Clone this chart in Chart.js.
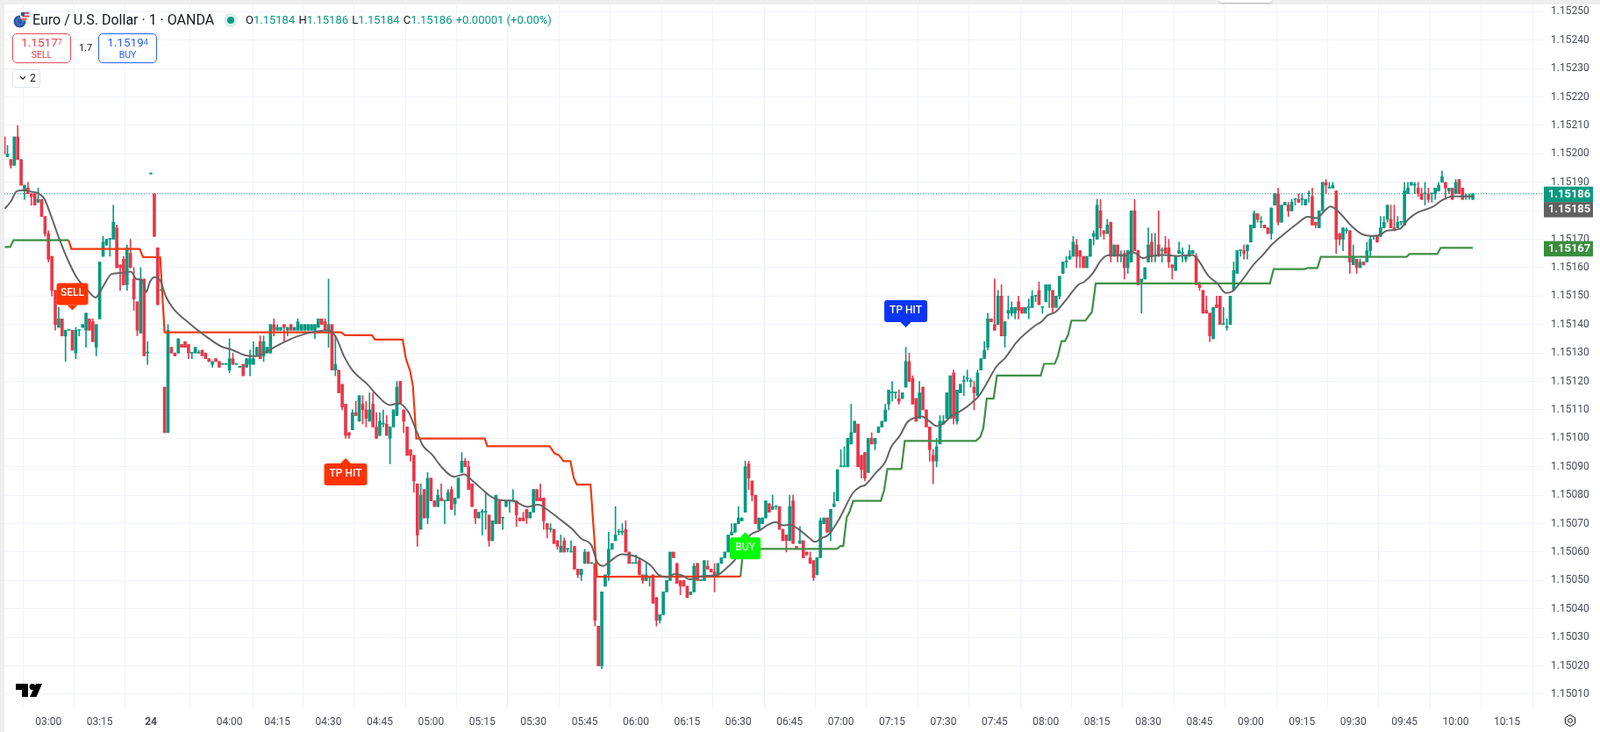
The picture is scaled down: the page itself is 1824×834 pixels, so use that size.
<!DOCTYPE html>
<html><head><meta charset="utf-8">
<script src="https://cdn.jsdelivr.net/npm/chart.js@4"></script>
<style>
html,body{margin:0;padding:0;background:#fff;width:1824px;height:834px;overflow:hidden;font-family:Roboto,"Liberation Sans",sans-serif;}
#wrap{position:relative;width:1824px;height:834px;}
canvas{position:absolute;left:0;top:0;}
.o{position:absolute;white-space:nowrap;}
.bandT{left:0;top:0;width:1824px;height:5px;background:#eeeeee;}
.bandL{left:0;top:0;width:5px;height:834px;background:#eeeeee;}
.tab{left:1390px;top:0;width:60px;height:3px;background:#fff;box-shadow:0 1px 2px rgba(0,0,0,.25);border-radius:0 0 3px 3px;}
.box{box-sizing:border-box;border:1px solid;border-radius:5px;height:34px;width:67px;background:#fff;text-align:center;}
.box b{display:block;font-weight:400;font-size:13.5px;line-height:13px;margin-top:3px;}
.box i{display:block;font-style:normal;font-size:10.5px;line-height:11px;margin-top:2px;}
.box sup{font-size:9px;line-height:0;vertical-align:2px;}
</style></head>
<body><div id="wrap">
<canvas id="c" width="1824" height="834" style="width:1824px;height:834px"></canvas>
<div class="o bandT"></div><div class="o bandL"></div><div class="o tab"></div>
<svg class="o" style="left:15px;top:13px" width="19" height="19" viewBox="0 0 19 19">
<circle cx="7.5" cy="11.5" r="7" fill="#2b5aa8"/><circle cx="7.5" cy="11.5" r="3.5" fill="none" stroke="#bcd0ee" stroke-dasharray="1 1.5"/>
<circle cx="13" cy="5.5" r="5" fill="#e9eef6"/><rect x="9" y="1" width="9" height="1.8" fill="#e23b3b"/><rect x="10.5" y="4.6" width="8" height="1.8" fill="#e23b3b"/><rect x="9.5" y="8" width="6" height="1.6" fill="#e23b3b"/><rect x="9" y="1" width="4" height="4" fill="#2b5aa8"/></svg>
<div class="o" id="title" style="left:37px;top:14px;font-size:16px;line-height:18px;color:#131722;">Euro / U.S. Dollar · 1 · OANDA</div>
<div class="o" style="left:255px;top:15px;width:16px;height:16px;border-radius:50%;background:#d9f0ec;"></div>
<div class="o" style="left:259px;top:19px;width:8px;height:8px;border-radius:50%;background:#089981;"></div>
<div class="o" id="ohlc" style="left:280px;top:14px;font-size:13px;line-height:18px;color:#089981;"><span style="color:#131722">O</span>1.15184 <span style="color:#131722;margin-left:1px">H</span>1.15186 <span style="color:#131722;margin-left:1px">L</span>1.15184 <span style="color:#131722;margin-left:1px">C</span>1.15186 <span style="margin-left:1px">+0.00001 (+0.00%)</span></div>
<div class="o box" style="left:14px;top:38px;border-color:#e0505e;color:#e8424f;"><b>1.1517<sup>7</sup></b><i>SELL</i></div>
<div class="o" style="left:90px;top:48px;font-size:11px;line-height:14px;color:#131722;">1.7</div>
<div class="o box" style="left:112px;top:38px;border-color:#2962ff;color:#2962ff;"><b>1.1519<sup>4</sup></b><i>BUY</i></div>
<div class="o" style="left:14px;top:79px;box-sizing:border-box;width:32px;height:21px;border:1px solid #e0e3eb;border-radius:3px;background:#fff;color:#131722;font-size:12px;line-height:19px;padding-left:7px;"><svg width="8" height="6" viewBox="0 0 8 6" style="margin-right:4px;vertical-align:1px"><path d="M1 1.2 4 4.2 7 1.2" fill="none" stroke="#131722" stroke-width="1.1"/></svg>2</div>
<svg class="o" style="left:18px;top:779px" width="30" height="15" viewBox="0 0 30 15"><path d="M0 0H14V15H7V7H0Z" fill="#000"/><circle cx="19" cy="3.5" r="3.5" fill="#000"/><path d="M23 0H30L23.5 15H16Z" fill="#000"/></svg>
<svg class="o" style="left:1782px;top:813px" width="16" height="16" viewBox="0 0 16 16"><circle cx="8" cy="8" r="2.4" fill="none" stroke="#131722"/><path d="M8 1.5 13.6 4.75V11.25L8 14.5 2.4 11.25V4.75Z" fill="none" stroke="#131722" stroke-linejoin="round"/></svg>
</div>
<script>
// candle values: points above 1.15000 (206 = 1.15206), one entry per one-minute bar
const opens=[206,199,198,196,206,198,187,188,186,186,
183,184,178,172,164,152,139,142,136,138,
138,130,138,139,138,142,141,132,142,164,
168,170,170,174,161,163,154,165,156,148,
137,156,130,193,186,167,152,118,102,132,
130,130,133,134,133,130,130,130,131,130,
128,126,128,127,126,126,124,128,126,125,
126,125,126,126,129,134,129,130,130,140,
138,138,140,138,140,138,138,138,138,138,
138,138,139,142,141,138,140,124,124,119,
112,102,103,109,106,112,110,106,112,104,
101,105,105,100,104,108,120,110,104,96,
94,84,68,82,72,86,78,76,79,78,
78,82,77,79,88,92,90,84,75,72,
74,74,73,64,70,78,72,76,78,78,
78,72,72,75,72,74,82,79,79,70,
68,68,64,60,64,61,60,62,54,52,
56,60,56,56,34,20,48,52,61,64,
67,67,68,60,56,56,57,52,50,51,
52,44,36,38,46,50,60,56,50,50,
48,45,46,56,50,50,55,54,53,52,
56,58,60,66,67,70,71,74,91,85,
80,68,70,72,77,75,76,76,68,66,
64,78,62,63,64,60,58,57,52,58,
70,72,67,76,78,90,90,90,98,102,
105,94,95,88,100,98,102,104,106,112,
116,116,114,114,118,127,121,114,107,118,
110,104,94,92,98,105,107,107,123,106,
116,120,121,120,118,115,124,128,132,142,
140,140,150,136,144,144,144,148,146,144,
146,146,150,152,146,148,152,152,146,150,
158,162,163,164,168,166,164,160,164,171,
170,180,173,172,176,164,168,164,165,160,
162,180,166,155,156,162,169,164,168,166,
167,167,161,159,165,165,163,164,165,164,
154,152,145,144,135,147,150,140,139,140,
152,158,166,166,166,169,174,179,176,175,
174,172,182,186,176,182,182,180,184,184,
184,182,186,185,176,174,180,190,188,188,
187,172,170,173,173,161,163,160,162,162,
166,171,171,171,174,177,177,174,174,176,
175,186,189,189,188,186,186,186,186,186,
187,190,190,187,188,186,191,188,185,185,184];
const highs=[206,203,198,206,210,198,189,190,186,186,
188,184,178,173,164,152,146,142,138,138,
138,139,138,140,144,142,142,140,162,171,
170,170,182,175,161,164,168,170,160,148,
160,156,134,193,186,167,152,118,140,132,
130,135,133,134,133,130,132,131,131,130,
128,127,128,127,126,126,135,130,126,125,
126,128,131,134,132,136,136,132,140,142,
140,139,140,139,140,139,142,140,140,140,
140,140,142,142,142,156,140,136,124,119,
112,102,110,113,115,115,113,116,116,109,
109,110,108,104,110,120,120,110,104,96,
94,84,84,82,88,86,78,82,84,78,
82,83,79,86,95,93,92,84,75,74,
75,81,73,71,80,78,72,78,78,82,
78,72,74,75,74,82,82,84,79,70,
70,68,64,66,65,61,64,62,54,54,
61,60,56,56,34,46,52,67,63,76,
68,70,71,60,56,59,58,52,56,51,
52,44,38,46,50,60,60,56,50,50,
48,46,56,56,50,57,57,54,56,56,
58,60,66,70,70,76,72,92,92,85,
80,72,72,78,77,80,76,76,68,66,
80,80,62,69,64,60,60,57,58,72,
72,72,75,81,89,96,97,100,112,106,
105,94,95,100,102,100,104,106,112,117,
120,116,117,116,132,130,122,114,120,118,
110,104,96,100,108,108,116,122,124,117,
119,122,124,121,120,124,128,134,144,142,
156,152,154,141,150,148,146,150,146,146,
149,152,150,155,146,154,154,152,150,157,
162,164,166,171,170,166,164,164,170,173,
184,184,173,177,176,168,168,166,166,166,
180,184,166,156,160,174,172,172,180,167,
171,170,161,164,169,167,164,168,166,165,
155,152,150,144,146,150,150,146,142,150,
162,166,166,168,168,175,180,179,178,175,
174,181,186,188,182,183,183,184,184,186,
186,184,187,188,176,180,190,191,190,190,
187,172,174,174,173,168,163,163,162,169,
171,171,171,178,178,182,182,182,178,176,
190,190,190,190,190,188,190,188,186,188,
190,194,190,188,188,191,191,188,186,186,186];
const lows=[200,199,195,196,198,189,184,186,182,182,
183,178,171,162,150,138,139,136,127,138,
131,128,136,139,132,138,134,129,142,164,
168,164,170,160,152,154,152,160,145,136,
137,129,126,193,171,147,152,102,102,130,
129,130,132,132,128,128,130,130,129,128,
127,125,127,125,126,126,123,126,126,125,
122,125,122,126,129,128,127,130,130,136,
138,138,134,136,138,138,138,138,138,138,
138,135,139,140,138,132,124,122,116,110,
100,100,103,108,106,105,104,106,104,100,
101,104,101,91,104,108,112,102,94,92,
81,62,68,72,70,78,76,76,78,70,
78,75,73,79,88,90,82,76,70,72,
66,68,62,64,70,70,68,76,74,78,
69,71,71,70,72,74,78,78,68,65,
67,63,61,60,60,60,60,54,51,50,
56,56,56,34,20,19,48,50,61,64,
66,66,60,56,56,56,52,49,50,48,
42,34,35,38,46,50,58,49,45,48,
44,45,46,50,50,50,54,53,46,52,
56,58,60,66,67,70,71,74,82,78,
70,68,70,72,74,75,75,68,64,60,
64,63,61,63,58,59,56,50,52,58,
70,67,64,76,78,90,90,90,98,102,
90,86,85,88,98,96,102,104,106,110,
113,114,112,114,118,120,112,106,107,110,
104,92,84,90,98,105,107,107,105,105,
116,115,120,118,110,115,124,128,131,141,
138,140,136,132,142,143,142,142,144,144,
142,146,148,147,144,148,146,144,146,149,
158,160,163,164,160,160,160,160,164,168,
170,171,170,172,162,164,162,162,156,158,
162,166,154,144,156,162,162,162,164,162,
165,160,156,159,165,162,162,164,165,154,
152,144,144,134,135,146,140,140,138,140,
152,158,164,163,163,169,174,176,174,174,
172,170,182,175,176,182,178,180,182,183,
182,182,183,175,174,174,180,186,188,188,
165,168,166,172,158,161,158,160,161,162,
164,170,169,171,174,176,174,173,174,175,
175,186,189,186,185,184,182,183,183,184,
187,190,184,186,184,186,186,184,184,184,184];
const closes=[200,200,196,206,198,189,189,186,185,182,
184,178,172,163,152,140,142,136,138,138,
131,138,138,140,144,138,134,140,162,169,
170,170,176,160,160,154,167,160,149,138,
156,129,130,193,171,147,152,102,138,130,
129,135,132,132,130,130,132,130,129,128,
127,127,127,125,126,126,128,126,126,125,
122,128,128,128,132,128,134,132,140,138,
139,139,139,139,138,139,141,140,140,140,
140,140,142,140,138,140,124,126,116,111,
101,101,109,108,115,110,107,110,104,100,
106,105,101,104,110,118,112,106,94,94,
85,66,80,72,86,78,76,80,78,78,
81,75,79,86,92,90,82,76,72,74,
74,74,64,71,80,70,72,78,78,78,
73,71,71,72,74,82,78,78,71,68,
68,63,62,62,60,61,60,54,52,54,
60,56,56,36,20,46,52,61,63,66,
67,67,60,56,56,56,52,50,52,51,
42,36,38,46,50,60,58,49,48,48,
44,46,55,50,50,57,54,53,52,56,
58,60,66,67,70,72,72,90,86,80,
70,72,72,78,74,76,76,68,64,64,
76,63,61,64,58,59,56,51,58,71,
72,67,75,77,89,90,90,100,102,106,
90,89,86,100,98,100,104,106,110,117,
116,116,113,116,127,120,112,106,116,110,
104,96,92,97,106,106,116,122,107,117,
119,120,121,120,116,123,128,131,142,141,
138,150,136,141,145,146,146,145,144,146,
146,150,150,147,146,154,154,146,150,157,
162,162,164,169,164,164,160,164,170,172,
182,174,172,175,164,168,164,164,160,166,
180,166,154,156,160,168,164,164,164,166,
165,162,160,164,166,165,164,166,166,154,
153,144,144,136,146,146,140,140,139,150,
159,166,166,165,168,175,179,177,176,174,
172,181,186,176,182,183,180,183,184,183,
184,184,186,175,175,180,190,189,188,189,
170,170,174,173,162,164,160,162,161,166,
170,171,169,174,176,182,174,173,176,176,
187,188,190,189,186,184,186,184,186,188,
189,192,188,188,184,190,186,184,185,185,186];

// time axis: bar position of each label
const timeTickBars=[13,28,43,66,80,95,110,125,140,155,170,185,200,215,230,245,260,275,290,305,320,335,350,365,380,395,410,425,440];
const timeTickLabels=["03:00","03:15","24","04:00","04:15","04:30","04:45","05:00","05:15","05:30","05:45","06:00","06:15","06:30","06:45","07:00","07:15","07:30","07:45","08:00","08:15","08:30","08:45","09:00","09:15","09:30","09:45","10:00","10:15"];
const priceTicks=["1.15250","1.15240","1.15230","1.15220","1.15210","1.15200","1.15190","1.15180","1.15170","1.15160","1.15150","1.15140","1.15130","1.15120","1.15110","1.15100","1.15090","1.15080","1.15070","1.15060","1.15050","1.15040","1.15030","1.15020","1.15010"];

// moving average vertices (bar position, points above 1.15000)
const maBars=[0.2,2,3.7,5.8,8,10.1,11.8,13.5,16.1,18.7,21.3,24.2,26.8,29,31.5,34.5,37.1,38.8,40.5,41.6,42.7,44,45.7,47.4,49.5,54.2,58.5,63.6,67,70.5,73.9,77.3,80.8,85.9,91,94.9,97,99.6,102.2,106.4,109,112.9,115.4,118.4,120.6,122.7,125.3,127.8,131.7,134.7,137.3,140.7,142.8,145,149.3,153.1,156.5,158.7,162.1,166.4,169,172,173.6,175.4,177,180.9,184.3,187.8,189.5,191.6,194.2,196.3,198.9,200.6,204.9,208.7,211.8,214.3,216.4,218.6,221.2,223.7,225.9,228,230.1,233.1,235.7,237.5,239.1,241.3,244.3,248.6,250.7,252,255.4,258,259.7,262.3,264.4,266.5,268.7,270.8,273,274.7,277.2,280.2,283.3,285.4,288,290.5,293.1,296.5,301.6,303.8,305.5,307.8,311,314.5,316.2,318.8,320.9,323,326.5,328.6,329.9,331.6,333.3,335.9,339.3,343.6,347.9,349.6,352.6,355.2,357.7,359.5,362.4,365.9,368.4,371.4,374.4,378.7,381.7,384.3,386.8,388.3,391.5,394.1,397.5,400.1,402.7,404.8,408.7,411.2,413.8,418.1,421.1,424,430];
const maValues=[180.7,183.3,186.9,187.2,186.7,186.1,184.2,179.1,170.4,162.7,156.5,152.4,149.5,153.4,157.8,158.2,158.6,156,155.5,151.4,155,156.7,155.5,149.8,145.7,140.5,136.4,132.3,131,129.2,128.9,130.8,133.1,135.9,137.5,138,135.9,128.7,123.6,119,115.4,111.7,112.3,109.2,103,97.3,94.3,90.3,86.5,87.3,84.9,81.3,79.3,78.3,77.9,75.9,76.7,75.2,72.1,68,64.7,62.3,56.6,55.1,56.4,59.2,58.7,56.6,55.1,52,51.2,52.3,51.6,50.4,51.6,51.9,54.7,57.8,62.9,66.2,67.6,69.6,70.6,69.4,69.6,67.6,65,63.6,64.8,66,71.2,80.9,83,83.5,88.1,91.7,96.9,101,105.6,107.2,107.7,106.1,104.3,104.9,107.7,109.7,112.5,114.9,120,125.2,128.3,133.9,139.4,141.1,143.2,144.4,148.8,154,155,158.1,162.2,164.3,164.5,164.3,165.6,164.8,163.4,164.1,164.5,164.1,164.5,162.7,157.1,154.5,151.1,151.6,155.5,161.2,164.3,168.4,171.5,175.6,177.9,177.4,180.2,181.5,178.7,175.1,171.8,171.2,171.5,173,173.7,177.1,179.4,181.3,183.8,185.1,185.1];

// short trailing stop
const redStopBars=[18.9,19.7,39.7,40.7,45.7,47,98.7,99.8,107.7,108.6,116.7,117.6,118.9,119.7,120.7,140.7,141.5,159.7,161.2,162.5,163.8,165.8,166.8,167.7,171.7,173.6,215.6];
const redStopValues=[169.7,166.6,166.6,163.7,163.7,137.3,137.3,136.3,136.3,134.7,134.7,128.2,123.6,118.4,99.9,99.9,97.2,97.2,94.7,94,92,92,86,83.7,83.7,51.3,51.4];

// long trailing stop (null = no line)
const greenStopBars=[0.2,1.8,2.8,18.9,100,215.6,216.4,243.8,244.9,245.7,246.7,247.5,248.6,256.7,257.7,258.6,262.7,263.7,284.5,285.8,286.7,287.7,289.7,290.7,303.5,304.5,307.6,308.5,309.6,310.6,311.5,312.5,316.6,318.5,319.6,370.6,371.7,380.8,381.7,384.5,385.5,410.6,411.5,419.6,420.6,430];
const greenStopValues=[167.3,167.3,169.7,169.7,null,51.4,61.1,61.1,62.1,62.1,72.2,74,78,78,82,89.2,89.2,99.1,99.1,100.5,103.6,114,114,122.1,122.1,126.2,126.2,128.8,134.2,134.2,136.3,141.4,141.4,144.5,154.5,154.5,159.5,159.5,159.9,159.9,163.8,163.8,164.8,164.8,167,167];

// signal labels: text, bar, price of the arrow tip
const signalText=["SELL","TP HIT","BUY","TP HIT"];
const signalBars=[20,100,217,264];
const signalTips=[145,93,67,139];

const lastClose=186, lastMA=185, lastStop=167;

const UP='#089981', DOWN='#e8374a';
const P=v=>v==null?null:1.15+v/100000;
const barColor=i=>closes[i]>=opens[i]?UP:DOWN;
const bodies=opens.map((o,i)=>({x:i,y:[P(Math.min(o,closes[i])),P(Math.max(o,closes[i]))]}));
const wicks=opens.map((o,i)=>({x:i,y:[P(lows[i]),P(highs[i])]}));
const pts=(xs,ys)=>xs.map((x,i)=>({x,y:P(ys[i])}));

const XMIN=0.1, XMAX=450.8, YTOP=252.28, YBOT=4.75;

const overlay={id:'overlay',afterDraw(ch){
  const c=ch.ctx,xs=ch.scales.x,ys=ch.scales.y;
  const signalStyle=[
    {fill:'#ff3300',w:36,h:25,up:false},
    {fill:'#ff3300',w:49,h:25,up:true},
    {fill:'#00ff00',w:35,h:25,up:true},
    {fill:'#0a35f5',w:49,h:25,up:false}];
  signalText.forEach((t,k)=>{
    const s=signalStyle[k],x=xs.getPixelForValue(signalBars[k]),y=ys.getPixelForValue(P(signalTips[k]));
    const top=s.up?y+6:y-6-s.h;
    c.fillStyle=s.fill;c.beginPath();c.roundRect(x-s.w/2,top,s.w,s.h,3);c.fill();
    c.beginPath();
    if(s.up){c.moveTo(x-6,y+6);c.lineTo(x,y);c.lineTo(x+6,y+6);}else{c.moveTo(x-6,y-6);c.lineTo(x,y);c.lineTo(x+6,y-6);}
    c.fill();
    c.fillStyle=k==2?'#d8ffd8':'#fff';c.font='500 12px Roboto';c.textAlign='center';c.textBaseline='middle';
    c.fillText(t,x,top+s.h/2-1);
  });
  const boxes=[[lastClose,UP],[lastMA,'#616161'],[lastStop,'#388e3c']];
  const yc=[221.3,238.8,283.4];
  boxes.forEach((b,k)=>{
    c.fillStyle=b[1];c.fillRect(1760,yc[k]-8.7,56,17.5);
    c.fillStyle='#fff';c.font='700 13px Roboto';c.textAlign='center';c.textBaseline='middle';
    c.fillText((1.15+b[0]/100000).toFixed(5),1789,yc[k]);
  });
}};

new Chart(document.getElementById('c'),{
  data:{datasets:[
    {type:'line',data:[{x:XMIN,y:P(lastClose)},{x:XMAX,y:P(lastClose)}],borderColor:UP,borderWidth:1,borderDash:[1,2],pointRadius:0,order:6},
    {type:'bar',data:wicks,backgroundColor:wicks.map((_,i)=>barColor(i)),barThickness:1,minBarLength:1,grouped:false,borderWidth:0,borderSkipped:false,order:5},
    {type:'bar',data:bodies,backgroundColor:bodies.map((_,i)=>barColor(i)),barThickness:3,minBarLength:1,grouped:false,borderWidth:0,borderSkipped:false,order:4},
    {type:'line',data:pts(greenStopBars,greenStopValues),borderColor:'#3f8f45',borderWidth:2.2,pointRadius:0,spanGaps:false,order:3},
    {type:'line',data:pts(redStopBars,redStopValues),borderColor:'#ee3a12',borderWidth:2.2,pointRadius:0,order:2},
    {type:'line',data:pts(maBars,maValues),borderColor:'#666464',borderWidth:2,pointRadius:0,cubicInterpolationMode:'monotone',order:1}
  ]},
  options:{
    responsive:false,animation:false,devicePixelRatio:1,
    layout:{padding:{left:5,top:6,right:0,bottom:0}},
    plugins:{legend:{display:false},tooltip:{enabled:false}},
    scales:{
      x:{type:'linear',position:'bottom',min:XMIN,max:XMAX,offset:false,
        grid:{color:'#f0f3fa',lineWidth:1,drawTicks:false},border:{display:false},
        afterBuildTicks(s){s.ticks=timeTickBars.map(v=>({value:v}));},
        afterFit(s){s.height=26;s.paddingLeft=0;s.paddingRight=0;},
        ticks:{autoSkip:false,maxRotation:0,padding:8,color:'#4a4d58',
          font:c=>({family:'Roboto',size:12,weight:c.tick&&c.tick.value===43?'700':'400'}),
          callback:v=>timeTickLabels[timeTickBars.indexOf(v)]}},
      y:{type:'linear',position:'right',min:P(YBOT),max:P(YTOP),
        grid:{color:'#f0f3fa',lineWidth:1,drawTicks:false},border:{display:false},
        afterBuildTicks(s){s.ticks=priceTicks.map(v=>({value:+v}));},
        afterFit(s){s.width=64;s.paddingTop=0;s.paddingBottom=0;},
        ticks:{autoSkip:false,padding:8,color:'#4a4d58',font:{family:'Roboto',size:12},
          callback:v=>(+v).toFixed(5)}}
    }
  },
  plugins:[overlay]
});
</script>
</body></html>
